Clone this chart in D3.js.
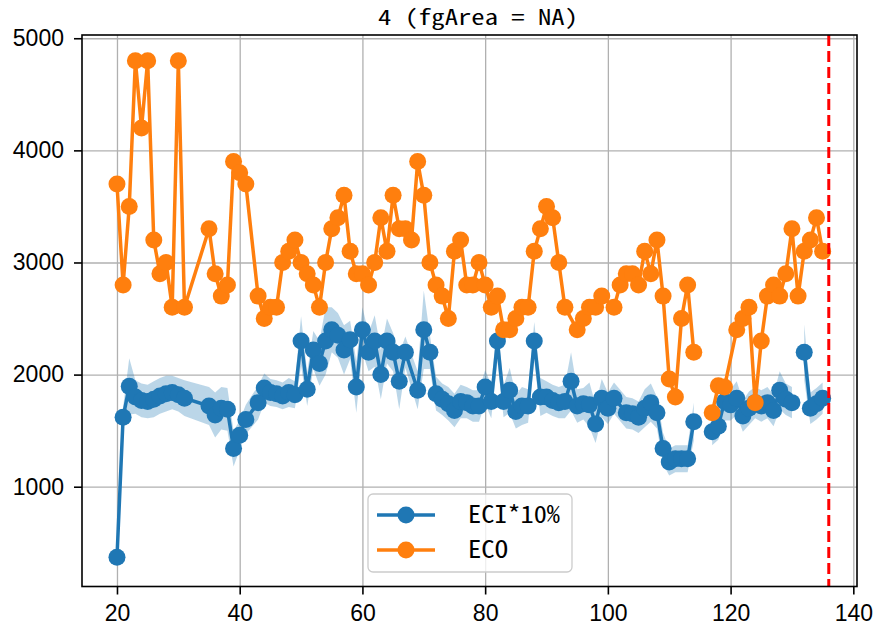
<!DOCTYPE html>
<html>
<head>
<meta charset="utf-8">
<script src="https://cdn.jsdelivr.net/npm/d3@7"></script>
<style>
  html, body { margin: 0; padding: 0; background: #fff; }
  .tick-label { font-family: 'Liberation Sans', Arial, sans-serif; font-size: 23px; fill: #000; }
  .mono { font-family: 'Noto Sans Mono CJK SC', 'DejaVu Sans Mono', monospace; fill: #000; }
</style>
</head>
<body>
<div id="chart"></div>
<script>
// ECO series (orange)
const ecoDays = [20, 21, 22, 23, 24, 25, 26, 27, 28, 29, 30, 31, 35, 36, 37, 38, 39, 40, 41,
  43, 44, 45, 46, 47, 48, 49, 50, 51, 52, 53, 54, 55, 56, 57, 58, 59, 60, 61, 62, 63, 64, 65, 66, 67, 68, 69,
  70, 71, 72, 73, 74, 75, 76, 77, 78, 79, 80, 81, 82, 83, 84, 85, 86, 87, 88, 89, 90, 91, 92, 93, 95, 96, 97,
  98, 99, 101, 102, 103, 104, 105, 106, 107, 108, 109, 110, 111, 112, 113, 114, 115, 117, 118, 119,
  121, 122, 123, 124, 125, 126, 127, 128, 129, 130, 131, 132, 133, 134, 135];
const ecoValues = [3700, 2800, 3500, 4800, 4200, 4800, 3200, 2900, 3000, 2600, 4800, 2600, 3300, 2900, 2700, 2800, 3900, 3800, 3700,
  2700, 2500, 2600, 2600, 3000, 3100, 3200, 3000, 2900, 2800, 2600, 3000, 3300, 3400, 3600, 3100, 2900, 2900, 2800, 3000, 3400, 3100, 3600, 3300, 3300, 3200, 3900,
  3600, 3000, 2800, 2700, 2500, 3100, 3200, 2800, 2800, 3000, 2800, 2600, 2700, 2400, 2400, 2500, 2600, 2600, 3100, 3300, 3500, 3400, 3000, 2600, 2400, 2500, 2600,
  2600, 2700, 2600, 2800, 2900, 2900, 2800, 3100, 2900, 3200, 2700, 1960, 1800, 2500, 2800, 2200, null, 1660, 1900, 1890,
  2400, 2500, 2600, 1750, 2300, 2700, 2800, 2700, 2900, 3300, 2700, 3100, 3200, 3400, 3100];

// ECI*10% series (blue) with its spread band
const eciDays = [20, 21, 22, 23, 24, 25, 26, 27, 28, 29, 30, 31, 35, 36, 37, 38, 39, 40, 41,
  43, 44, 45, 46, 47, 48, 49, 50, 51, 52, 53, 54, 55, 56, 57, 58, 59, 60, 61, 62, 63, 64, 65, 66, 67, 69,
  70, 71, 72, 73, 74, 75, 76, 77, 78, 79, 80, 81, 82, 83, 84, 85, 86, 87, 88, 89, 90, 91, 92, 93, 94, 95, 96, 97,
  98, 99, 100, 101, 103, 104, 105, 106, 107, 108, 109, 110, 111, 112, 113, 114, 115, 117, 118, 119,
  120, 121, 122, 123, 124, 125, 126, 127, 128, 129, 130, 131, 132, 133, 134, 135];
const eciValues = [370, 1620, 1895, 1800, 1770, 1760, 1780, 1810, 1830, 1840, 1820, 1790, 1720, 1640, 1700, 1690, 1340, 1460, 1600,
  1750, 1880, 1840, 1830, 1810, 1840, 1820, 2300, 1870, 2220, 2100, 2300, 2400, 2350, 2220, 2310, 1890, 2400, 2200, 2300, 2000, 2300, 2200, 1940, 2200, 1860,
  2400, 2200, 1830, 1780, 1740, 1680, 1760, 1750, 1720, 1720, 1890, 1760, 2300, 1760, 1860, 1670, 1720, 1720, 2300, 1800, 1800, 1770, 1750, 1760, 1940, 1720, 1740, 1730,
  1560, 1790, 1700, 1790, 1660, 1650, 1620, 1700, 1750, 1660, 1340, 1220, 1250, 1250, 1250, 1580, null, 1490, 1540, 1760,
  1730, 1790, 1630, 1700, 1750, 1720, 1750, 1680, 1860, 1780, 1750, null, 2200, 1700, 1740, 1790];
const eciSpread = [20, 90, 250, 150, 150, 150, 160, 160, 160, 150, 150, 160, 170, 200, 190, 190, 160, 130, 130,
  150, 130, 120, 120, 120, 130, 120, 220, 150, 170, 200, 300, 200, 200, 220, 170, 230, 200, 170, 230, 220, 200, 170, 250, 140, 170,
  350, 150, 150, 140, 150, 150, 150, 140, 140, 140, 150, 150, 180, 140, 200, 150, 170, 150, 170, 170, 140, 140, 140, 150, 260, 150, 140, 200,
  170, 170, 140, 140, 140, 140, 140, 170, 170, 140, 140, 120, 120, 120, 120, 170, 0, 120, 120, 170,
  140, 150, 140, 150, 140, 140, 140, 140, 170, 140, 140, 0, 250, 140, 140, 140];

const xTicks = [20, 40, 60, 80, 100, 120, 140];
const yTicks = [1000, 2000, 3000, 4000, 5000];
const cutoffDay = 136;
const titleText = '4 (fgArea = NA)';
const legendLabels = ['ECI*10%', 'ECO'];

const blue = '#1f77b4';
const orange = '#ff7f0e';

const width = 875;
const height = 640;
const plot = { left: 82, right: 857, top: 35, bottom: 586.5 };

const svg = d3.select('#chart')
  .append('svg')
  .attr('width', width)
  .attr('height', height)
  .attr('viewBox', `0 0 ${width} ${height}`);

const x = d3.scaleLinear().domain([14.3, 140.6]).range([plot.left, plot.right]);
const y = d3.scaleLinear().domain([110, 5029]).range([plot.bottom, plot.top]);

const eco = ecoDays.map((d, i) => ({ day: d, v: ecoValues[i] }));
const eci = eciDays.map((d, i) => ({ day: d, v: eciValues[i], s: eciSpread[i] }));

// grid
svg.append('g')
  .attr('transform', `translate(0,${plot.bottom})`)
  .call(d3.axisBottom(x).tickValues(xTicks).tickSize(-(plot.bottom - plot.top)).tickFormat(''))
  .call((g) => g.select('.domain').remove())
  .call((g) => g.selectAll('line').attr('stroke', '#b0b0b0').attr('stroke-width', 1.3));
svg.append('g')
  .attr('transform', `translate(${plot.left},0)`)
  .call(d3.axisLeft(y).tickValues(yTicks).tickSize(-(plot.right - plot.left)).tickFormat(''))
  .call((g) => g.select('.domain').remove())
  .call((g) => g.selectAll('line').attr('stroke', '#b0b0b0').attr('stroke-width', 1.3));

svg.append('clipPath').attr('id', 'plot-clip')
  .append('rect')
  .attr('x', plot.left).attr('y', plot.top)
  .attr('width', plot.right - plot.left).attr('height', plot.bottom - plot.top);

const body = svg.append('g').attr('clip-path', 'url(#plot-clip)');

// spread band
const band = d3.area()
  .defined((d) => d.v != null)
  .x((d) => x(d.day))
  .y0((d) => y(d.v - d.s))
  .y1((d) => y(d.v + d.s));
body.append('path')
  .datum(eci)
  .attr('d', band)
  .attr('fill', blue)
  .attr('fill-opacity', 0.3);

const line = d3.line()
  .defined((d) => d.v != null)
  .x((d) => x(d.day))
  .y((d) => y(d.v));

function drawSeries(data, color) {
  body.append('path')
    .datum(data)
    .attr('d', line)
    .attr('fill', 'none')
    .attr('stroke', color)
    .attr('stroke-width', 3.5)
    .attr('stroke-linejoin', 'round');
  body.append('g')
    .selectAll('circle')
    .data(data.filter((d) => d.v != null))
    .join('circle')
    .attr('cx', (d) => x(d.day))
    .attr('cy', (d) => y(d.v))
    .attr('r', 8.5)
    .attr('fill', color);
}
drawSeries(eci, blue);
drawSeries(eco, orange);

// cutoff marker
body.append('line')
  .attr('x1', x(cutoffDay)).attr('x2', x(cutoffDay))
  .attr('y1', plot.top).attr('y2', plot.bottom)
  .attr('stroke', '#ff0000')
  .attr('stroke-width', 3)
  .attr('stroke-dasharray', '11,5');

// frame
svg.append('rect')
  .attr('x', plot.left).attr('y', plot.top)
  .attr('width', plot.right - plot.left).attr('height', plot.bottom - plot.top)
  .attr('fill', 'none')
  .attr('stroke', '#000')
  .attr('stroke-width', 1.6);

// axes ticks + labels
const xAxis = svg.append('g')
  .attr('transform', `translate(0,${plot.bottom})`)
  .call(d3.axisBottom(x).tickValues(xTicks).tickSize(8).tickPadding(10).tickFormat(d3.format('d')));
xAxis.select('.domain').remove();
xAxis.selectAll('line').attr('stroke', '#000').attr('stroke-width', 1.6);
xAxis.selectAll('text').attr('class', 'tick-label').attr('font-size', null).attr('font-family', null).attr('dy', '0.72em');

const yAxis = svg.append('g')
  .attr('transform', `translate(${plot.left},0)`)
  .call(d3.axisLeft(y).tickValues(yTicks).tickSize(8).tickPadding(10).tickFormat(d3.format('d')));
yAxis.select('.domain').remove();
yAxis.selectAll('line').attr('stroke', '#000').attr('stroke-width', 1.6);
yAxis.selectAll('text').attr('class', 'tick-label').attr('font-size', null).attr('font-family', null);
svg.selectAll('.tick text').attr('fill', '#000');

// title
svg.append('text')
  .attr('class', 'mono')
  .attr('x', 478)
  .attr('y', 25)
  .attr('text-anchor', 'middle')
  .attr('font-size', 21)
  .attr('textLength', 200)
  .attr('lengthAdjust', 'spacingAndGlyphs')
  .text(titleText);

// legend
const legend = svg.append('g').attr('transform', 'translate(368,494)');
legend.append('rect')
  .attr('width', 204).attr('height', 78)
  .attr('rx', 5)
  .attr('fill', '#fff').attr('fill-opacity', 0.8)
  .attr('stroke', '#cccccc').attr('stroke-width', 1.3);
const legendColors = [blue, orange];
const legendWidths = [92, 40];
legendLabels.forEach((label, i) => {
  const row = legend.append('g').attr('transform', `translate(0,${21 + i * 35})`);
  row.append('line')
    .attr('x1', 9).attr('x2', 67)
    .attr('stroke', legendColors[i]).attr('stroke-width', 3.5);
  row.append('circle').attr('cx', 38).attr('r', 8.5).attr('fill', legendColors[i]);
  row.append('text')
    .attr('class', 'mono')
    .attr('x', 100)
    .attr('y', 8)
    .attr('font-size', 24)
    .attr('textLength', legendWidths[i])
    .attr('lengthAdjust', 'spacingAndGlyphs')
    .text(label);
});
</script>
</body>
</html>
